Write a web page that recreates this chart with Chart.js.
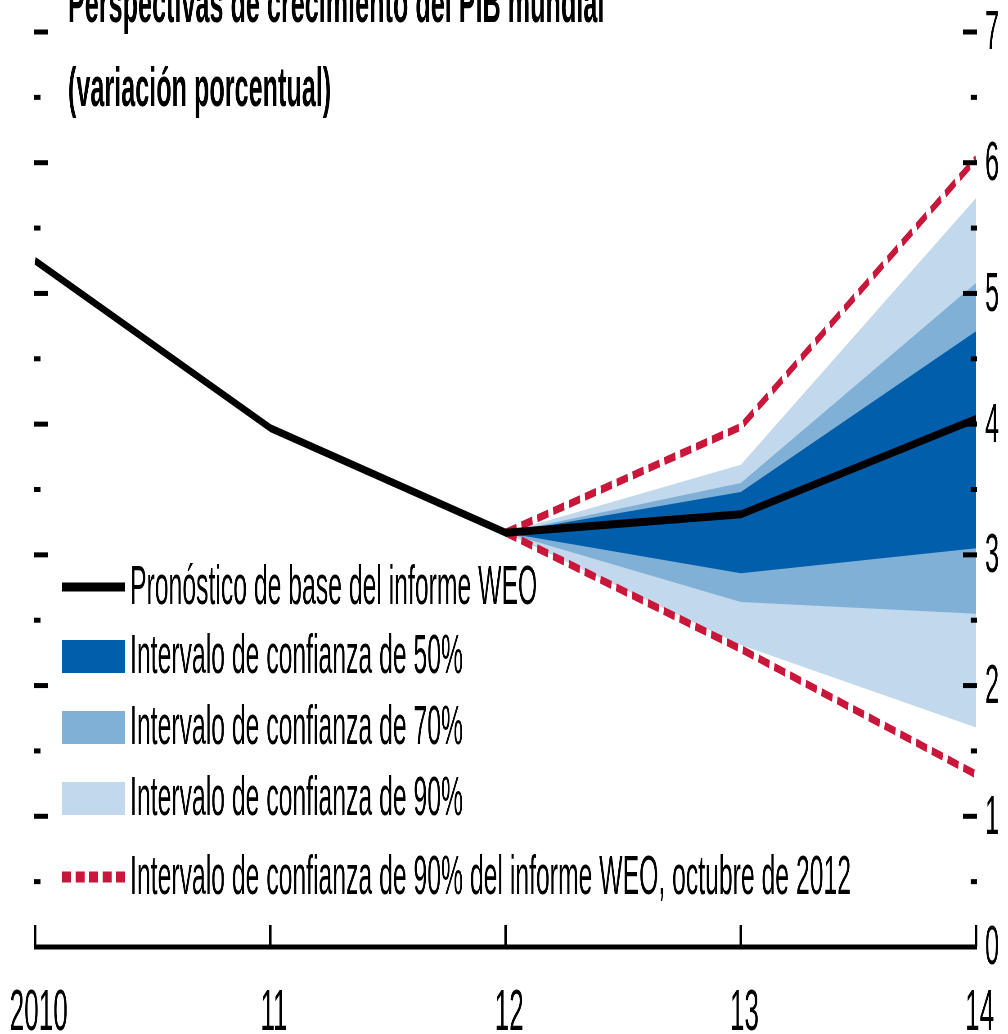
<!DOCTYPE html>
<html>
<head>
<meta charset="utf-8">
<script src="https://cdn.jsdelivr.net/npm/chart.js@4.4.1/dist/chart.umd.min.js"></script>
<style>
  html, body { margin: 0; padding: 0; background: #fff; }
  #wrap { width: 1008px; height: 1034px; overflow: hidden; position: relative; }
  /* the source figure is a horizontally squeezed export, so draw wide and squeeze */
  #chart { transform: scaleX(0.45); transform-origin: 0 0; }
</style>
</head>
<body>
<div id="wrap"><canvas id="chart" width="2240" height="1034"></canvas></div>
<script>
// ── Data ─────────────────────────────────────────────────────────────────────
const years = ["2010", "11", "12", "13", "14"];
const baseline     = [5.25, 3.97, 3.17, 3.31, 4.04];
const ci50Upper    = [null, null, 3.17, 3.48, 4.71];
const ci50Lower    = [null, null, 3.17, 2.86, 3.05];
const ci70Upper    = [null, null, 3.17, 3.55, 5.08];
const ci70Lower    = [null, null, 3.17, 2.64, 2.55];
const ci90Upper    = [null, null, 3.17, 3.69, 5.73];
const ci90Lower    = [null, null, 3.17, 2.31, 1.68];
const oct2012Upper = [null, null, 3.17, 3.98, 6.03];
const oct2012Lower = [null, null, 3.17, 2.28, 1.32];
const yTicks = [0, 1, 2, 3, 4, 5, 6, 7];

const titleLines = ["Perspectivas de crecimiento del PIB mundial", "(variación porcentual)"];
const legendLabels = [
  "Pronóstico de base del informe WEO",
  "Intervalo de confianza de 50%",
  "Intervalo de confianza de 70%",
  "Intervalo de confianza de 90%",
  "Intervalo de confianza de 90% del informe WEO, octubre de 2012"
];

const DARK  = "#005eaa";
const MID   = "#80b0d6";
const LIGHT = "#c2d8ec";
const RED   = "#c8173a";
const FONT  = '"Liberation Sans", Arial, sans-serif';

// ── Plugin: axes, ticks, labels, title, legend ───────────────────────────────
const decorations = {
  id: "decorations",
  afterDraw(chart) {
    const { ctx, chartArea: a, scales: { x, y } } = chart;
    ctx.save();
    ctx.fillStyle = "#000";
    ctx.strokeStyle = "#000";

    // y ticks, inward on both sides; major on integers, minor on halves
    for (let v = 0.5; v <= yTicks[yTicks.length - 1]; v += 0.5) {
      const py = y.getPixelForValue(v);
      const len = Number.isInteger(v) ? 31 : 14;
      ctx.fillRect(a.left - 2, py - 2.5, len, 5);
      ctx.fillRect(a.right + 2 - len, py - 2.5, len, 5);
    }

    // x axis
    const by = y.getPixelForValue(0);
    ctx.lineWidth = 5;
    ctx.beginPath();
    ctx.moveTo(a.left - 2, by);
    ctx.lineTo(a.right + 2, by);
    ctx.stroke();
    ctx.lineWidth = 5.5;
    years.forEach((_, i) => {
      const px = x.getPixelForValue(i);
      ctx.beginPath();
      ctx.moveTo(px, by);
      ctx.lineTo(px, by - 22);
      ctx.stroke();
    });

    // tick labels
    ctx.font = "58px " + FONT;
    ctx.textAlign = "center";
    ctx.textBaseline = "alphabetic";
    years.forEach((lab, i) => ctx.fillText(lab, x.getPixelForValue(i) + 8, 1030));
    ctx.font = "56px " + FONT;
    ctx.textAlign = "left";
    ctx.textBaseline = "middle";
    yTicks.forEach((v) => ctx.fillText(String(v), a.right + 20, y.getPixelForValue(v) + 2));

    // title
    ctx.font = "bold 56px " + FONT;
    ctx.textBaseline = "alphabetic";
    ctx.fillText(titleLines[0], 151, 22);
    ctx.fillText(titleLines[1], 151, 106);

    // legend
    const sx = 138, sw = 140, tx = 289;
    const rows = [587, 656, 727, 798, 877];
    ctx.font = "55px " + FONT;
    ctx.textBaseline = "middle";
    // baseline swatch
    ctx.lineWidth = 9;
    ctx.beginPath();
    ctx.moveTo(sx, rows[0]);
    ctx.lineTo(sx + sw, rows[0]);
    ctx.stroke();
    // band swatches
    [DARK, MID, LIGHT].forEach((c, i) => {
      ctx.fillStyle = c;
      ctx.fillRect(sx, rows[i + 1] - 16, sw, 33);
    });
    // dashed swatch
    ctx.strokeStyle = RED;
    ctx.lineWidth = 11;
    ctx.setLineDash([20, 10]);
    ctx.beginPath();
    ctx.moveTo(sx, rows[4]);
    ctx.lineTo(sx + sw, rows[4]);
    ctx.stroke();
    ctx.setLineDash([]);
    ctx.fillStyle = "#000";
    legendLabels.forEach((t, i) => ctx.fillText(t, tx, rows[i] + 2));

    ctx.restore();
  }
};

// ── Datasets (first drawn on top) ────────────────────────────────────────────
const band = (data, fill, color) => ({
  data, fill, backgroundColor: color, borderWidth: 0, pointRadius: 0, tension: 0
});
const dashed = (data) => ({
  data, fill: false, borderColor: RED, borderWidth: 8, borderDash: [25, 11],
  borderCapStyle: "butt", pointRadius: 0, tension: 0
});

new Chart(document.getElementById("chart"), {
  type: "line",
  data: {
    labels: years,
    datasets: [
      { data: baseline, fill: false, borderColor: "#000", borderWidth: 8,
        borderCapStyle: "butt", borderJoinStyle: "round", pointRadius: 0, tension: 0 },
      dashed(oct2012Upper),
      dashed(oct2012Lower),
      band(ci50Upper, "+1", DARK),
      band(ci50Lower, false, DARK),
      band(ci70Upper, "+1", MID),
      band(ci70Lower, false, MID),
      band(ci90Upper, "+1", LIGHT),
      band(ci90Lower, false, LIGHT)
    ]
  },
  options: {
    responsive: false,
    devicePixelRatio: 1,
    animation: false,
    layout: { padding: { left: 78, right: 71, top: 32, bottom: 87 } },
    scales: {
      x: { type: "category", display: false, offset: false },
      y: { min: 0, max: 7, display: false }
    },
    plugins: { legend: { display: false }, tooltip: { enabled: false } }
  },
  plugins: [decorations]
});
</script>
</body>
</html>
